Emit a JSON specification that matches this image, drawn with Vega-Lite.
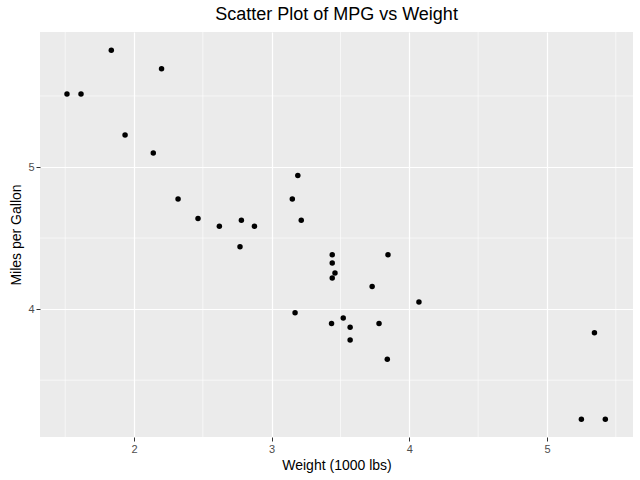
{
  "$schema": "https://vega.github.io/schema/vega-lite/v6.json",
  "width": 593,
  "height": 405,
  "padding": {"left": 9, "top": 5, "right": 3, "bottom": 5},
  "title": {"text": "Scatter Plot of MPG vs Weight", "font": "Liberation Sans", "fontSize": 18, "fontWeight": "normal", "color": "black", "anchor": "middle", "offset": 8},
  "config": {
    "view": {"fill": "#ebebeb", "stroke": null},
    "axis": {"gridColor": "white", "gridWidth": 1.2, "domain": false, "tickColor": "#333333", "tickSize": 4, "labelColor": "#4d4d4d", "labelFont": "Liberation Sans", "labelFontSize": 11, "titleFont": "Liberation Sans", "titleFontSize": 14, "titleFontWeight": "normal", "titleColor": "black"}
  },
  "layer": [
    {
      "data": {"values": [{"x": 1.5}, {"x": 2.5}, {"x": 3.5}, {"x": 4.5}, {"x": 5.5}]},
      "mark": {"type": "rule", "color": "white", "strokeWidth": 0.6},
      "encoding": {"x": {"field": "x", "type": "quantitative", "scale": {"domain": [1.317, 5.625], "nice": false, "zero": false}}}
    },
    {
      "data": {"values": [{"y": 3.5}, {"y": 4.5}, {"y": 5.5}]},
      "mark": {"type": "rule", "color": "white", "strokeWidth": 0.6},
      "encoding": {"y": {"field": "y", "type": "quantitative", "scale": {"domain": [3.1, 5.95], "nice": false, "zero": false}}}
    },
    {
      "data": {"values": [
        {"wt": 2.620, "v": 4.583}, {"wt": 2.875, "v": 4.583}, {"wt": 2.320, "v": 4.775}, {"wt": 3.215, "v": 4.626},
        {"wt": 3.440, "v": 4.324}, {"wt": 3.460, "v": 4.254}, {"wt": 3.570, "v": 3.782}, {"wt": 3.190, "v": 4.940},
        {"wt": 3.150, "v": 4.775}, {"wt": 3.440, "v": 4.382}, {"wt": 3.440, "v": 4.219}, {"wt": 4.070, "v": 4.050},
        {"wt": 3.730, "v": 4.159}, {"wt": 3.780, "v": 3.899}, {"wt": 5.250, "v": 3.225}, {"wt": 5.424, "v": 3.225},
        {"wt": 5.345, "v": 3.834}, {"wt": 2.200, "v": 5.692}, {"wt": 1.615, "v": 5.514}, {"wt": 1.835, "v": 5.822},
        {"wt": 2.465, "v": 4.637}, {"wt": 3.520, "v": 3.937}, {"wt": 3.435, "v": 3.899}, {"wt": 3.840, "v": 3.647},
        {"wt": 3.845, "v": 4.382}, {"wt": 1.935, "v": 5.225}, {"wt": 2.140, "v": 5.099}, {"wt": 1.513, "v": 5.514},
        {"wt": 3.170, "v": 3.975}, {"wt": 2.770, "v": 4.438}, {"wt": 3.570, "v": 3.873}, {"wt": 2.780, "v": 4.626}
      ]},
      "mark": {"type": "point", "filled": true, "color": "black", "opacity": 1, "size": 30},
      "encoding": {
        "x": {"field": "wt", "type": "quantitative", "title": "Weight (1000 lbs)", "scale": {"domain": [1.317, 5.625], "nice": false, "zero": false}, "axis": {"values": [2, 3, 4, 5], "format": "d"}},
        "y": {"field": "v", "type": "quantitative", "title": "Miles per Gallon", "scale": {"domain": [3.1, 5.95], "nice": false, "zero": false}, "axis": {"values": [4, 5], "format": "d"}}
      }
    }
  ]
}
